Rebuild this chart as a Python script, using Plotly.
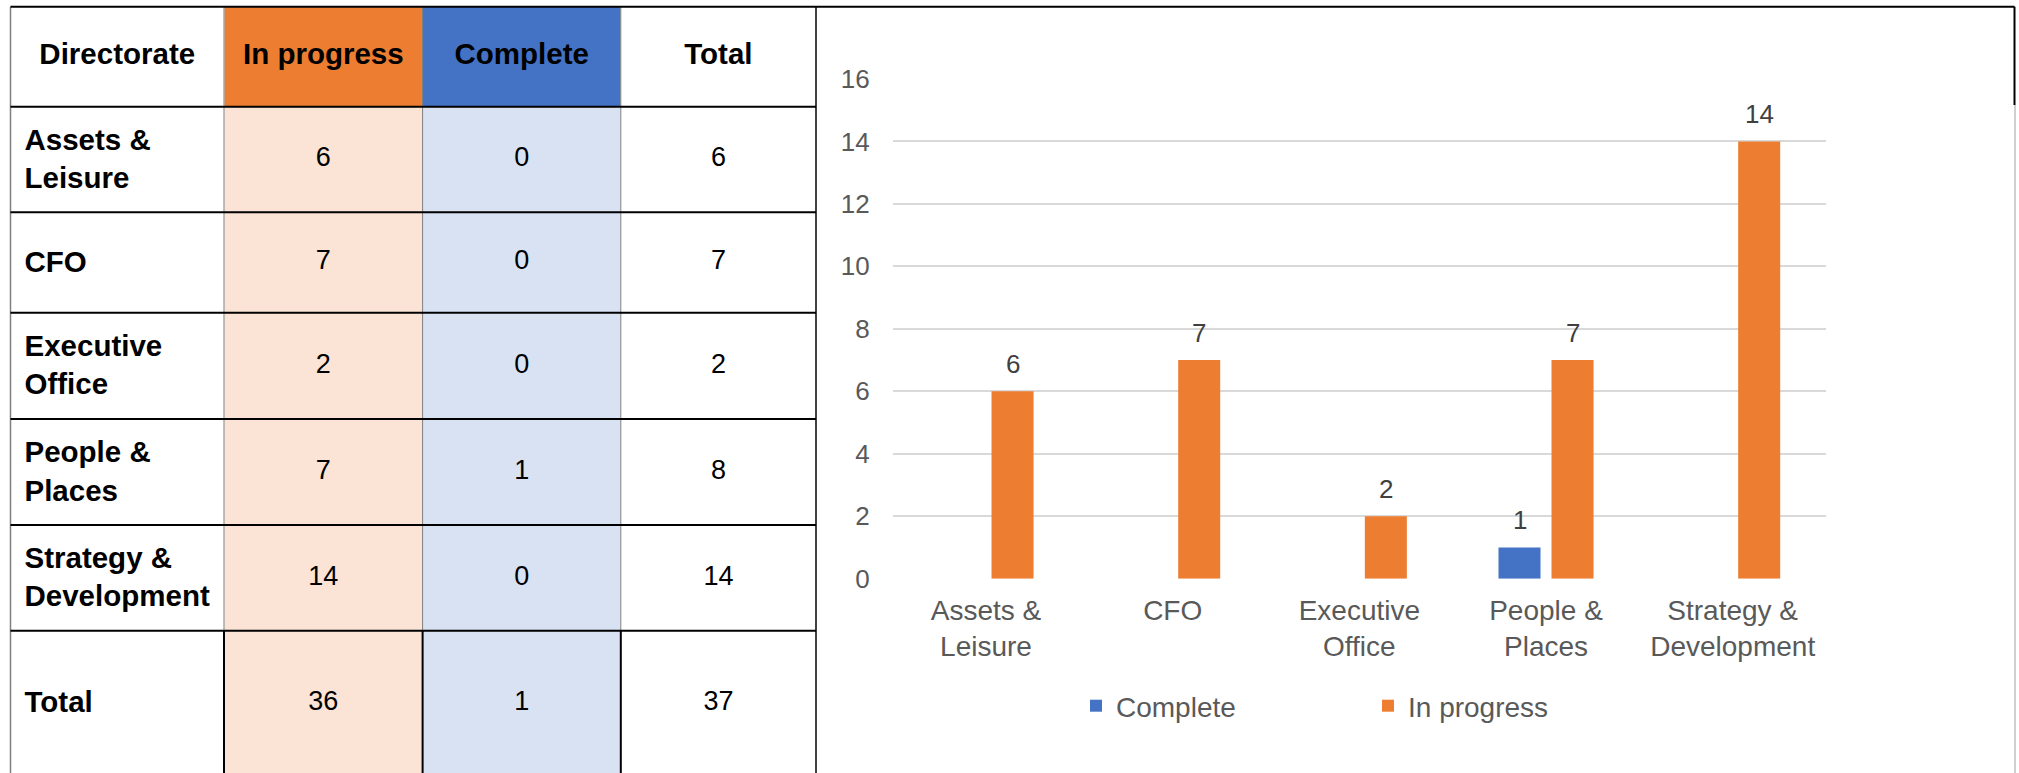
import plotly.graph_objects as go

# ---------------- data ----------------
directorates = ["Assets &<br>Leisure", "CFO", "Executive<br>Office", "People &<br>Places", "Strategy &<br>Development"]
in_progress = [6, 7, 2, 7, 14]
complete = [0, 0, 0, 1, 0]
row_totals = [6, 7, 2, 8, 14]
table_headers = ["Directorate", "In progress", "Complete", "Total"]
total_label = "Total"
in_progress_total = 36
complete_total = 1
grand_total = 37
y_ticks = [0, 2, 4, 6, 8, 10, 12, 14, 16]

# ---------------- styles / layout constants ----------------
W, H = 2019, 773
FONT = "Liberation Sans, Arial, sans-serif"
ORANGE = "#ED7D31"
BLUE = "#4472C4"
LIGHT_ORANGE = "#FBE4D5"
LIGHT_BLUE = "#D9E2F3"
GREY_TXT = "#595959"
LABEL_TXT = "#404040"

col_edges = [10.5, 224, 422.6, 620.8, 816]
row_edges = [6.7, 106.7, 212.3, 312.7, 419, 525, 630.7, 776]

plot_x0, plot_x1 = 892.7, 1826.0
plot_y_top, plot_y_bot = 79.0, 578.7
bargap, bargroupgap = 0.432, 0.2075

fig = go.Figure()

# ---------------- bar chart ----------------
fig.add_trace(go.Bar(name="Complete", x=directorates, y=complete, marker_color=BLUE,
                     hoverinfo="x+y"))
fig.add_trace(go.Bar(name="In progress", x=directorates, y=in_progress, marker_color=ORANGE,
                     hoverinfo="x+y"))

# data labels (only non-zero values, as in the original)
cat_w = (plot_x1 - plot_x0) / len(directorates)
slot = cat_w * (1 - bargap) / 2
annotations = []
for series, sign in ((complete, -1), (in_progress, 1)):
    for cat, v in zip(directorates, series):
        if v:
            annotations.append(dict(x=cat, y=v, xref="x", yref="y", text=str(v), showarrow=False,
                                    xshift=sign * slot / 2, yshift=10, yanchor="bottom",
                                    font=dict(family=FONT, size=26, color=LABEL_TXT)))

# ---------------- table (cells drawn as a heatmap on pixel-like axes) ----------------
n_rows = len(directorates) + 2
codes = [[0, 3, 4, 0]] + [[0, 1, 2, 0] for _ in range(n_rows - 1)]
cscale = [[0, "#FFFFFF"], [0.125, "#FFFFFF"], [0.125, LIGHT_ORANGE], [0.375, LIGHT_ORANGE],
          [0.375, LIGHT_BLUE], [0.625, LIGHT_BLUE], [0.625, ORANGE], [0.875, ORANGE],
          [0.875, BLUE], [1, BLUE]]
fig.add_trace(go.Heatmap(z=codes, x=col_edges, y=row_edges, colorscale=cscale, zmin=0, zmax=4,
                         showscale=False, hoverinfo="skip", xaxis="x2", yaxis="y2"))

col_centers = [(col_edges[i] + col_edges[i + 1]) / 2 for i in range(4)]
row_centers = [(row_edges[i] + row_edges[i + 1]) / 2 for i in range(n_rows)]
row_centers[-1] = 703

BOLD_SIZE = 29.5
NUM_SIZE = 27
# header
fig.add_trace(go.Scatter(x=col_centers, y=[row_centers[0]] * 4, mode="text",
                         text=["<b>%s</b>" % h for h in table_headers], textposition="middle center",
                         textfont=dict(family=FONT, size=BOLD_SIZE, color="black"),
                         hoverinfo="skip", showlegend=False, xaxis="x2", yaxis="y2"))
# row labels
row_labels = directorates + [total_label]
label_y = [y + 2 for y in row_centers[1:]]
fig.add_trace(go.Scatter(x=[col_edges[0] + 14] * len(row_labels), y=label_y, mode="text",
                         text=["<b>%s</b>" % r for r in row_labels], textposition="middle right",
                         textfont=dict(family=FONT, size=BOLD_SIZE, color="black"),
                         hoverinfo="skip", showlegend=False, xaxis="x2", yaxis="y2"))
# numbers
for ci, col_vals in enumerate([in_progress + [in_progress_total],
                               complete + [complete_total],
                               row_totals + [grand_total]]):
    fig.add_trace(go.Scatter(x=[col_centers[ci + 1]] * len(col_vals), y=row_centers[1:], mode="text",
                             text=[str(v) for v in col_vals], textposition="middle center",
                             textfont=dict(family=FONT, size=NUM_SIZE, color="black"),
                             hoverinfo="skip", showlegend=False, xaxis="x2", yaxis="y2"))

# table / frame borders
shapes = []
def line(x0, y0, x1, y1, color, width):
    shapes.append(dict(type="line", xref="x2", yref="y2", x0=x0, y0=y0, x1=x1, y1=y1,
                       line=dict(color=color, width=width), layer="above"))

for c in col_edges[1:-1]:
    line(c, row_edges[0], c, row_edges[-2], "#7F7F7F", 1)
    line(c, row_edges[-2], c, row_edges[-1], "black", 2)
line(col_edges[0], row_edges[0], col_edges[0], row_edges[-1], "#7F7F7F", 1.5)
line(col_edges[-1], row_edges[0], col_edges[-1], row_edges[-1], "black", 1.5)
for r in row_edges[1:-1]:
    line(col_edges[0], r, col_edges[-1], r, "black", 2)
line(col_edges[0], row_edges[0], 2014.5, row_edges[0], "black", 2)
line(2014.5, row_edges[0], 2014.5, 105, "black", 2)
line(2015, 105, 2015, 776, "#A0A0A0", 1)

fig.update_layout(
    template="none",
    width=W, height=H, margin=dict(l=0, r=0, t=0, b=0, pad=0, autoexpand=False),
    paper_bgcolor="white", plot_bgcolor="rgba(0,0,0,0)",
    barmode="group", bargap=bargap, bargroupgap=bargroupgap,
    font=dict(family=FONT, color=GREY_TXT),
    xaxis=dict(domain=[plot_x0 / W, plot_x1 / W], anchor="y", showgrid=False, showline=False,
               zeroline=False, ticks="", tickfont=dict(size=28, color=GREY_TXT),
               ticklabelstandoff=12, automargin=False, fixedrange=True),
    yaxis=dict(domain=[(H - plot_y_bot) / H, (H - plot_y_top) / H], anchor="x", range=[0, 16],
               tickvals=y_ticks, showgrid=True, gridcolor="#D9D9D9", gridwidth=1.5,
               zeroline=False, showline=False, ticks="", automargin=False,
               tickfont=dict(size=26, color=GREY_TXT), ticklabelstandoff=22, fixedrange=True),
    xaxis2=dict(domain=[0, 1], range=[0, W], visible=False, anchor="y2", automargin=False,
                fixedrange=True),
    yaxis2=dict(domain=[0, 1], range=[H, 0], visible=False, anchor="x2", automargin=False,
                fixedrange=True),
    legend=dict(orientation="h", x=1076 / W, xanchor="left", y=(H - 706) / H, yanchor="middle",
                font=dict(family=FONT, size=28, color=GREY_TXT), entrywidth=247,
                bgcolor="rgba(0,0,0,0)", borderwidth=0, traceorder="normal"),
    annotations=annotations,
    shapes=shapes,
    showlegend=True,
)

fig.write_html("out.html", config={"displayModeBar": False},
               post_script="document.body.style.margin='0';")
